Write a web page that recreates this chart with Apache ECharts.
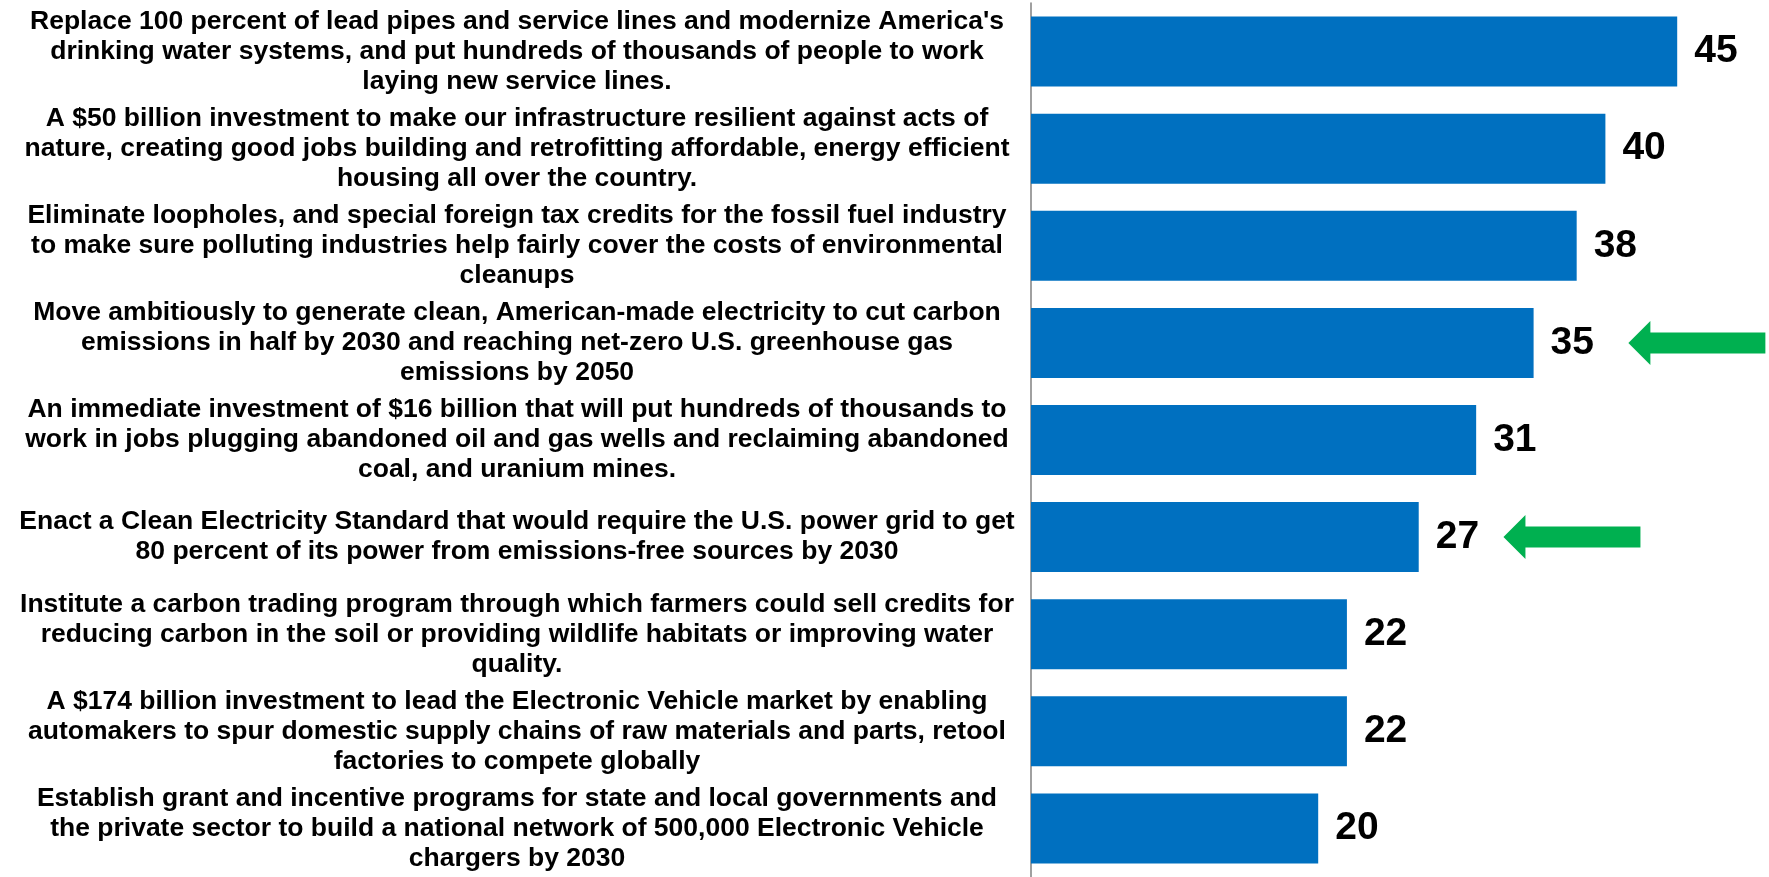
<!DOCTYPE html>
<html>
<head>
<meta charset="utf-8">
<script src="https://cdn.jsdelivr.net/npm/echarts@6/dist/echarts.min.js"></script>
<style>
html,body{margin:0;padding:0;background:#fff;}
#chart{width:1769px;height:877px;}
</style>
</head>
<body>
<div id="chart"></div>
<script>
const categories = [
  "Replace 100 percent of lead pipes and service lines and modernize America's\ndrinking water systems, and put hundreds of thousands of people to work\nlaying new service lines.",
  "A $50 billion investment to make our infrastructure resilient against acts of\nnature, creating good jobs building and retrofitting affordable, energy efficient\nhousing all over the country.",
  "Eliminate loopholes, and special foreign tax credits for the fossil fuel industry\nto make sure polluting industries help fairly cover the costs of environmental\ncleanups",
  "Move ambitiously to generate clean, American-made electricity to cut carbon\nemissions in half by 2030 and reaching net-zero U.S. greenhouse gas\nemissions by 2050",
  "An immediate investment of $16 billion that will put hundreds of thousands to\nwork in jobs plugging abandoned oil and gas wells and reclaiming abandoned\ncoal, and uranium mines.",
  "Enact a Clean Electricity Standard that would require the U.S. power grid to get\n80 percent of its power from emissions-free sources by 2030",
  "Institute a carbon trading program through which farmers could sell credits for\nreducing carbon in the soil or providing wildlife habitats or improving water\nquality.",
  "A $174 billion investment to lead the Electronic Vehicle market by enabling\nautomakers to spur domestic supply chains of raw materials and parts, retool\nfactories to compete globally",
  "Establish grant and incentive programs for state and local governments and\nthe private sector to build a national network of 500,000 Electronic Vehicle\nchargers by 2030"
];
const values = [45, 40, 38, 35, 31, 27, 22, 22, 20];
// highlighted items (arrows): category index and arrow tip position in value units
const arrowCats = [3, 5];
const arrowTips = [41.6, 32.9];

const chart = echarts.init(document.getElementById('chart'), null, {renderer: 'canvas'});
const FONT = "'Liberation Sans', Arial, sans-serif";
chart.setOption({
  animation: false,
  backgroundColor: '#ffffff',
  grid: {left: 1031, right: 20, top: 3, height: 878, containLabel: false},
  xAxis: {
    type: 'value', min: 0, max: 50, show: false,
    splitLine: {show: false}
  },
  yAxis: {
    type: 'category', data: categories, inverse: true,
    axisLine: {show: true, lineStyle: {color: '#808080', width: 1.5}},
    axisTick: {show: false},
    axisLabel: {
      align: 'center', margin: 514,
      fontFamily: FONT, fontSize: 26.5, fontWeight: 'bold', color: '#000',
      lineHeight: 30, interval: 0
    }
  },
  series: [{
    type: 'bar', data: values, barWidth: 70,
    itemStyle: {color: '#0070C0'},
    label: {
      show: true, position: 'right', distance: 17,
      fontFamily: FONT, fontSize: 39, fontWeight: 'bold', color: '#000'
    }
  }]
});

const graphics = arrowCats.map((ci, i) => {
  const p = chart.convertToPixel({gridIndex: 0}, [arrowTips[i], ci]);
  const x = p[0], y = p[1];
  const len = 137, headLen = 22, headH = 22, shaftH = 10.5;
  return {
    type: 'polygon',
    shape: {points: [
      [x, y], [x + headLen, y - headH], [x + headLen, y - shaftH],
      [x + len, y - shaftH], [x + len, y + shaftH], [x + headLen, y + shaftH],
      [x + headLen, y + headH]
    ]},
    style: {fill: '#00B050'}
  };
});
chart.setOption({graphic: graphics});
</script>
</body>
</html>
